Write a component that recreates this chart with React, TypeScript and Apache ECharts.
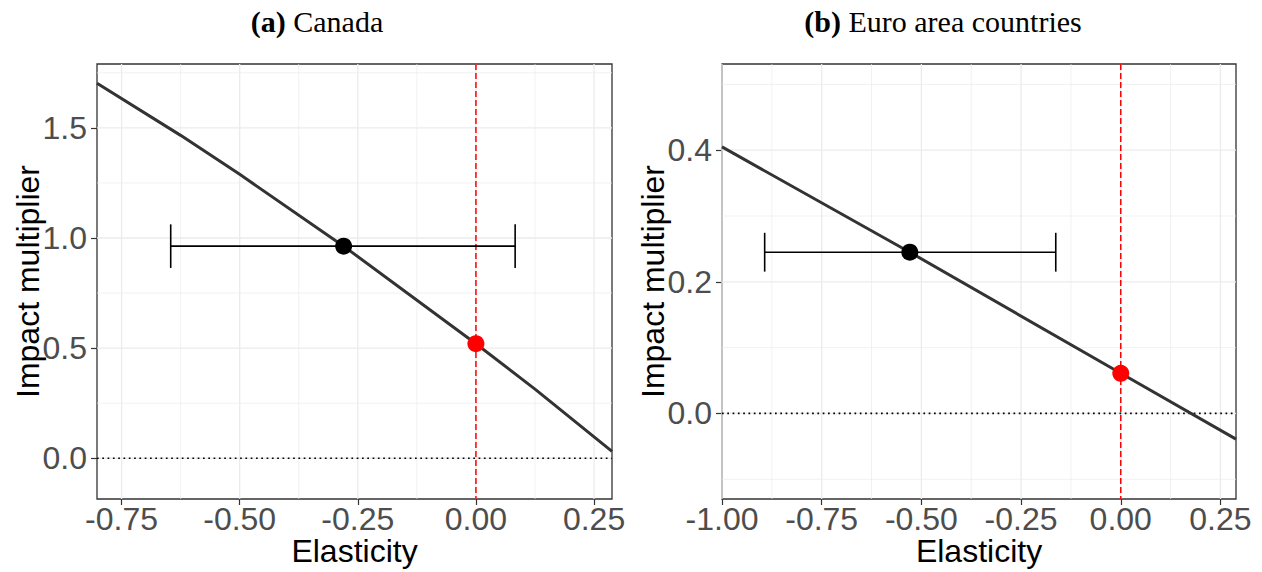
import React, { useEffect, useRef } from "react";
import * as echarts from "echarts";

// ---------- Data ----------
// Panel (a) Canada
const canadaCurveX = [-0.802, -0.625, -0.5, -0.28, 0, 0.125, 0.25, 0.288];
const canadaCurveY = [1.703, 1.466, 1.289, 0.963, 0.52, 0.314, 0.097, 0.031];
const canadaEstimate = [-0.28, 0.963];
const canadaInterval = [-0.646, 0.083];
const canadaCapHalf = 0.099;
const canadaAtZero = [0, 0.52];
const canadaXRange = [-0.802, 0.288];
const canadaYRange = [-0.185, 1.79];
const canadaXMajor = [-0.75, -0.5, -0.25, 0, 0.25];
const canadaXMinor = [-0.625, -0.375, -0.125, 0.125];
const canadaYMajor = [0, 0.5, 1, 1.5];
const canadaYMinor = [0.25, 0.75, 1.25, 1.75];

// Panel (b) Euro area countries
const euroCurveX = [-1.0, -0.529, 0, 0.289];
const euroCurveY = [0.405, 0.245, 0.061, -0.039];
const euroEstimate = [-0.529, 0.245];
const euroInterval = [-0.893, -0.163];
const euroCapHalf = 0.0295;
const euroAtZero = [0, 0.061];
const euroXRange = [-1.0, 0.289];
const euroYRange = [-0.13, 0.531];
const euroXMajor = [-1.0, -0.75, -0.5, -0.25, 0, 0.25];
const euroXMinor = [-0.875, -0.625, -0.375, -0.125, 0.125];
const euroYMajor = [0, 0.2, 0.4];
const euroYMinor = [-0.1, 0.1, 0.3, 0.5];

const panelTitles = ["(a)", "Canada", "(b)", "Euro area countries"];
const xTitle = "Elasticity";
const yTitle = "Impact multiplier";

const SANS = "'Liberation Sans', Arial, Helvetica, sans-serif";
const SERIF = "'Liberation Serif', 'Times New Roman', serif";

function gridLineData(xMaj: number[], xMin: number[], yMaj: number[], yMin: number[]) {
  const out: number[][] = [];
  xMin.forEach((v) => out.push([0, v, 0]));
  yMin.forEach((v) => out.push([1, v, 0]));
  xMaj.forEach((v) => out.push([0, v, 1]));
  yMaj.forEach((v) => out.push([1, v, 1]));
  return out;
}

function gridSeries(idx: number, data: number[][]) {
  return {
    type: "custom",
    xAxisIndex: idx,
    yAxisIndex: idx,
    z: 1,
    silent: true,
    encode: { x: 1, y: 1 },
    data,
    renderItem: (params: any, api: any) => {
      const cs = params.coordSys;
      const dir = api.value(0);
      const v = api.value(1);
      const major = api.value(2) === 1;
      const style = { stroke: "#EBEBEB", lineWidth: major ? 1.3 : 0.7 };
      if (dir === 0) {
        const p = api.coord([v, 0]);
        return { type: "line", shape: { x1: p[0], y1: cs.y, x2: p[0], y2: cs.y + cs.height }, style };
      }
      const p = api.coord([0, v]);
      return { type: "line", shape: { x1: cs.x, y1: p[1], x2: cs.x + cs.width, y2: p[1] }, style };
    },
  };
}

function refSeries(idx: number) {
  return {
    type: "custom",
    xAxisIndex: idx,
    yAxisIndex: idx,
    z: 2,
    silent: true,
    encode: { x: 0, y: 0 },
    data: [[0, 0]],
    renderItem: (params: any, api: any) => {
      const cs = params.coordSys;
      const p = api.coord([0, 0]);
      return {
        type: "group",
        children: [
          {
            type: "line",
            shape: { x1: cs.x, y1: p[1], x2: cs.x + cs.width, y2: p[1] },
            style: { stroke: "#000000", lineWidth: 1.7, lineDash: [1.7, 3.6] },
          },
          {
            type: "line",
            shape: { x1: p[0], y1: cs.y, x2: p[0], y2: cs.y + cs.height },
            style: { stroke: "#FF0000", lineWidth: 1.5, lineDash: [6, 3] },
          },
        ],
      };
    },
  };
}

function errorBarSeries(idx: number, interval: number[], y: number, cap: number) {
  return {
    type: "custom",
    xAxisIndex: idx,
    yAxisIndex: idx,
    z: 4,
    silent: true,
    encode: { x: [0, 1], y: 2 },
    data: [[interval[0], interval[1], y, cap]],
    renderItem: (params: any, api: any) => {
      const lo = api.value(0);
      const hi = api.value(1);
      const yy = api.value(2);
      const c = api.value(3);
      const a = api.coord([lo, yy]);
      const b = api.coord([hi, yy]);
      const aT = api.coord([lo, yy + c]);
      const aB = api.coord([lo, yy - c]);
      const bT = api.coord([hi, yy + c]);
      const bB = api.coord([hi, yy - c]);
      const style = { stroke: "#000000", lineWidth: 1.6 };
      return {
        type: "group",
        children: [
          { type: "line", shape: { x1: a[0], y1: a[1], x2: b[0], y2: b[1] }, style },
          { type: "line", shape: { x1: aT[0], y1: aT[1], x2: aB[0], y2: aB[1] }, style },
          { type: "line", shape: { x1: bT[0], y1: bT[1], x2: bB[0], y2: bB[1] }, style },
        ],
      };
    },
  };
}

function xAxisDef(idx: number, range: number[], ticks: number[]) {
  return {
    type: "value",
    gridIndex: idx,
    min: range[0],
    max: range[1],
    axisLine: { show: false, onZero: false },
    axisTick: { show: true, length: 6, customValues: ticks, lineStyle: { color: "#333333", width: 1.2 } },
    axisLabel: {
      customValues: ticks,
      formatter: (v: number) => v.toFixed(2),
      color: "#4D4D4D",
      fontSize: 32,
      lineHeight: 26,
      fontFamily: SANS,
      margin: 7,
    },
    splitLine: { show: false },
    name: xTitle,
    nameLocation: "middle",
    nameGap: 39,
    nameMoveOverlap: false,
    nameTextStyle: { fontSize: 32, lineHeight: 26, color: "#000000", fontFamily: SANS, verticalAlign: "top" },
  };
}

function yAxisDef(idx: number, range: number[], ticks: number[], digits: number) {
  return {
    type: "value",
    gridIndex: idx,
    min: range[0],
    max: range[1],
    axisLine: { show: false, onZero: false },
    axisTick: { show: true, length: 6, customValues: ticks, lineStyle: { color: "#333333", width: 1.2 } },
    axisLabel: {
      customValues: ticks,
      formatter: (v: number) => v.toFixed(digits),
      color: "#4D4D4D",
      fontSize: 32,
      fontFamily: SANS,
      margin: 10,
    },
    splitLine: { show: false },
    name: yTitle,
    nameLocation: "middle",
    nameGap: 53,
    nameMoveOverlap: false,
    nameTextStyle: { fontSize: 32, color: "#000000", fontFamily: SANS },
  };
}

function titleDef(center: number, tag: string, label: string) {
  return {
    text: `{b|${tag}} ${label}`,
    left: center,
    top: 6,
    padding: 0,
    textAlign: "center",
    textStyle: {
      fontFamily: SERIF,
      fontSize: 30,
      fontWeight: "normal",
      color: "#000000",
      rich: {
        b: { fontFamily: SERIF, fontSize: 30, fontWeight: "bold", color: "#000000" },
      },
    },
  };
}

export default function App() {
  const ref = useRef<HTMLDivElement>(null);

  useEffect(() => {
    if (!ref.current) return;
    const chart = echarts.init(ref.current, undefined, { renderer: "svg" });

    const canadaLine = canadaCurveX.map((x, i) => [x, canadaCurveY[i]]);
    const euroLine = euroCurveX.map((x, i) => [x, euroCurveY[i]]);

    const pointSeries = (idx: number, pt: number[], color: string) => ({
      type: "scatter",
      xAxisIndex: idx,
      yAxisIndex: idx,
      z: 5,
      symbolSize: 17,
      data: [pt],
      itemStyle: { color, opacity: 1 },
      silent: true,
    });

    const gridBase = {
      top: 64,
      height: 435,
      show: true,
      borderColor: "#333333",
      borderWidth: 1.3,
      backgroundColor: "#FFFFFF",
      z: 0,
      containLabel: false,
      outerBoundsMode: "none",
    };

    chart.setOption({
      animation: false,
      backgroundColor: "#FFFFFF",
      title: [titleDef(317, panelTitles[0], panelTitles[1]), titleDef(943, panelTitles[2], panelTitles[3])],
      grid: [
        { ...gridBase, left: 97, width: 515 },
        { ...gridBase, left: 722, width: 514 },
      ],
      xAxis: [xAxisDef(0, canadaXRange, canadaXMajor), xAxisDef(1, euroXRange, euroXMajor)],
      yAxis: [yAxisDef(0, canadaYRange, canadaYMajor, 1), yAxisDef(1, euroYRange, euroYMajor, 1)],
      series: [
        gridSeries(0, gridLineData(canadaXMajor, canadaXMinor, canadaYMajor, canadaYMinor)),
        gridSeries(1, gridLineData(euroXMajor, euroXMinor, euroYMajor, euroYMinor)),
        refSeries(0),
        refSeries(1),
        {
          type: "line",
          xAxisIndex: 0,
          yAxisIndex: 0,
          z: 3,
          data: canadaLine,
          symbol: "none",
          smooth: false,
          lineStyle: { color: "#333333", width: 3, join: "round" },
          silent: true,
        },
        {
          type: "line",
          xAxisIndex: 1,
          yAxisIndex: 1,
          z: 3,
          data: euroLine,
          symbol: "none",
          lineStyle: { color: "#333333", width: 3 },
          silent: true,
        },
        errorBarSeries(0, canadaInterval, canadaEstimate[1], canadaCapHalf),
        errorBarSeries(1, euroInterval, euroEstimate[1], euroCapHalf),
        pointSeries(0, canadaEstimate, "#000000"),
        pointSeries(0, canadaAtZero, "#FF0000"),
        pointSeries(1, euroEstimate, "#000000"),
        pointSeries(1, euroAtZero, "#FF0000"),
      ],
    });

    return () => chart.dispose();
  }, []);

  return (
    <div
      ref={ref}
      style={{ position: "absolute", left: 0, top: 0, width: 1262, height: 572, background: "#FFFFFF" }}
    />
  );
}
